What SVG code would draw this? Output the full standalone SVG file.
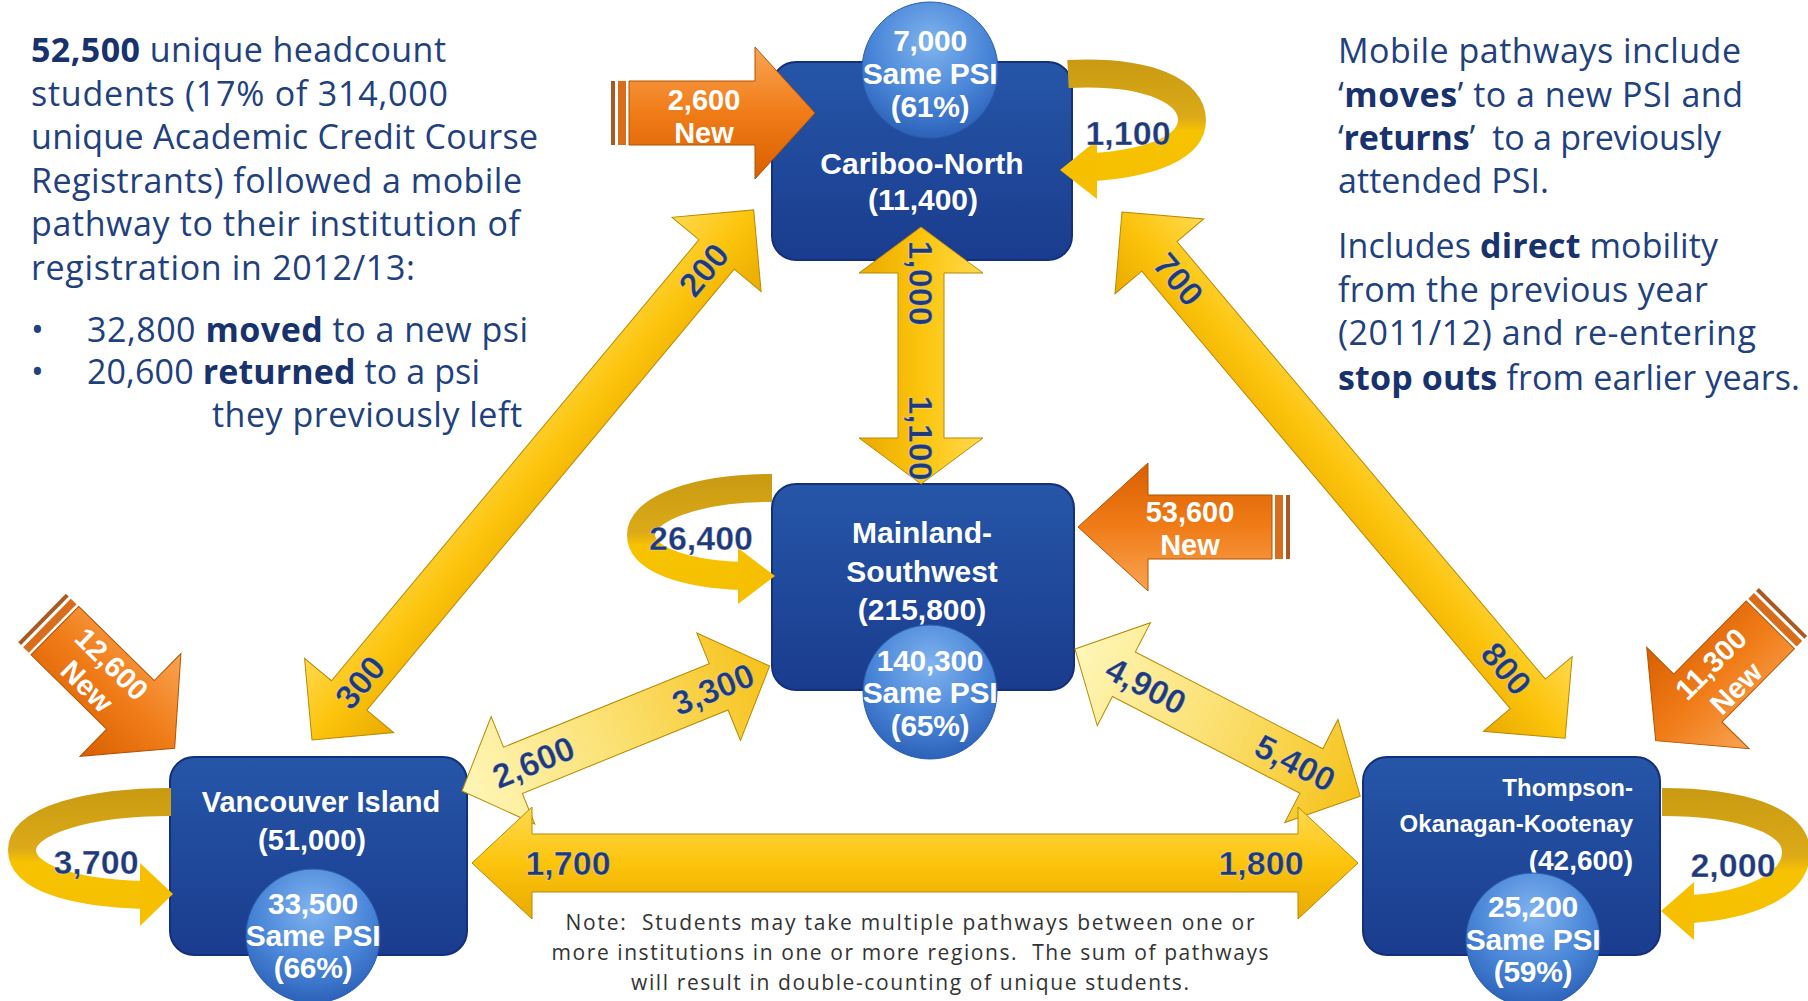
<svg xmlns="http://www.w3.org/2000/svg" width="1808" height="1001" viewBox="0 0 1808 1001">
<style>
.body{font-family:"Open Sans","Liberation Sans",sans-serif;font-size:34px;fill:#21407e}
.b{font-weight:bold;fill:#17326c}
.note{font-family:"Open Sans","Liberation Sans",sans-serif;font-size:21px;fill:#333;text-anchor:middle}
.box{fill:url(#boxG);stroke:#14307a;stroke-width:2}
.bub{fill:url(#bubG);stroke:#2a5dae;stroke-width:1}
.nt{font-family:"Liberation Sans",Arial,sans-serif;font-weight:bold;fill:#fff;text-anchor:middle;dominant-baseline:central}
.bt{font-size:30px;letter-spacing:-0.3px}
.lbl{font-family:"Liberation Sans",Arial,sans-serif;font-weight:bold;fill:#1f3a7a;font-size:34px;text-anchor:middle;dominant-baseline:central;stroke:#ffffff;stroke-width:0.6;stroke-opacity:0.5}
.ow{font-family:"Liberation Sans",Arial,sans-serif;font-weight:bold;fill:#fff;font-size:29px;text-anchor:middle;dominant-baseline:central}
.ya{fill:url(#yG);stroke:#b88a00;stroke-width:1}
.pa{fill:url(#pG);stroke:#b88a00;stroke-width:1}
.oa{fill:url(#oG);stroke:#b35200;stroke-width:1}
.s1{fill:#a85a22}
.s2{fill:#d86d1c}
.loop{fill:none;stroke-width:28}
.lh{fill:#f6c000}
</style>
<defs>
<linearGradient id="boxG" x1="0" y1="0" x2="0" y2="1">
<stop offset="0" stop-color="#2656a8"/><stop offset="1" stop-color="#1a3c8e"/>
</linearGradient>
<radialGradient id="bubG" cx="0.5" cy="0.3" r="0.7">
<stop offset="0" stop-color="#80b4ef"/><stop offset="0.6" stop-color="#4a86d8"/><stop offset="1" stop-color="#2c62b8"/>
</radialGradient>
<linearGradient id="yG" x1="0" y1="0" x2="0" y2="1">
<stop offset="0" stop-color="#ffd94f"/><stop offset="0.5" stop-color="#fcc40c"/><stop offset="1" stop-color="#e9aa00"/>
</linearGradient>
<linearGradient id="pG" x1="0" y1="0" x2="1" y2="0">
<stop offset="0" stop-color="#fff6b8"/><stop offset="0.5" stop-color="#fbe070"/><stop offset="1" stop-color="#f6c21a"/>
</linearGradient>
<linearGradient id="oG" x1="0" y1="0" x2="0" y2="1">
<stop offset="0" stop-color="#f9a453"/><stop offset="0.5" stop-color="#f07c18"/><stop offset="1" stop-color="#d85f00"/>
</linearGradient>
<linearGradient id="lpC" gradientUnits="userSpaceOnUse" x1="0" y1="60" x2="0" y2="175">
<stop offset="0" stop-color="#c99a12"/><stop offset="0.5" stop-color="#dcaa18"/><stop offset="0.62" stop-color="#f7c300"/><stop offset="1" stop-color="#f5c000"/>
</linearGradient>
<linearGradient id="lpM" gradientUnits="userSpaceOnUse" x1="0" y1="474" x2="0" y2="590">
<stop offset="0" stop-color="#c99a12"/><stop offset="0.5" stop-color="#dcaa18"/><stop offset="0.62" stop-color="#f7c300"/><stop offset="1" stop-color="#f5c000"/>
</linearGradient>
<linearGradient id="lpV" gradientUnits="userSpaceOnUse" x1="0" y1="788" x2="0" y2="909">
<stop offset="0" stop-color="#c99a12"/><stop offset="0.5" stop-color="#dcaa18"/><stop offset="0.62" stop-color="#f7c300"/><stop offset="1" stop-color="#f5c000"/>
</linearGradient>
<linearGradient id="lpT" gradientUnits="userSpaceOnUse" x1="0" y1="788" x2="0" y2="923">
<stop offset="0" stop-color="#c99a12"/><stop offset="0.5" stop-color="#dcaa18"/><stop offset="0.62" stop-color="#f7c300"/><stop offset="1" stop-color="#f5c000"/>
</linearGradient>
</defs>
<rect width="1808" height="1001" fill="#ffffff"/>

<g id="text-left" class="body">
<text x="31" y="62" textLength="415" lengthAdjust="spacing"><tspan class="b">52,500</tspan> unique headcount</text>
<text x="31" y="106" textLength="417" lengthAdjust="spacing">students (17% of 314,000</text>
<text x="31" y="149" textLength="507" lengthAdjust="spacing">unique Academic Credit Course</text>
<text x="31" y="193" textLength="491" lengthAdjust="spacing">Registrants) followed a mobile</text>
<text x="31" y="236" textLength="489" lengthAdjust="spacing">pathway to their institution of</text>
<text x="31" y="280" textLength="384" lengthAdjust="spacing">registration in 2012/13:</text>
<text x="31" y="342">•</text>
<text x="87" y="342" textLength="441" lengthAdjust="spacing">32,800 <tspan class="b">moved</tspan> to a new psi</text>
<text x="31" y="384">•</text>
<text x="87" y="384" textLength="393" lengthAdjust="spacing">20,600 <tspan class="b">returned</tspan> to a psi</text>
<text x="212" y="427" textLength="310" lengthAdjust="spacing">they previously left</text>
</g>

<g id="text-right" class="body">
<text x="1338" y="63" textLength="403" lengthAdjust="spacing">Mobile pathways include</text>
<text x="1338" y="107" textLength="405" lengthAdjust="spacing">‘<tspan class="b">moves</tspan>’ to a new PSI and</text>
<text x="1338" y="150" textLength="383" lengthAdjust="spacing" xml:space="preserve">‘<tspan class="b">returns</tspan>’  to a previously</text>
<text x="1338" y="193" textLength="211" lengthAdjust="spacing">attended PSI.</text>
<text x="1338" y="258" textLength="380" lengthAdjust="spacing">Includes <tspan class="b">direct</tspan> mobility</text>
<text x="1338" y="302" textLength="370" lengthAdjust="spacing">from the previous year</text>
<text x="1338" y="345" textLength="418" lengthAdjust="spacing">(2011/12) and re-entering</text>
<text x="1338" y="390" textLength="462" lengthAdjust="spacing"><tspan class="b">stop outs</tspan> from earlier years.</text>
</g>

<g id="note">
<text class="note" x="910" y="930" textLength="689" lengthAdjust="spacing" xml:space="preserve">Note:  Students may take multiple pathways between one or</text>
<text class="note" x="910" y="960" textLength="717" lengthAdjust="spacing" xml:space="preserve">more institutions in one or more regions.  The sum of pathways</text>
<text class="note" x="910" y="990" textLength="558" lengthAdjust="spacing">will result in double-counting of unique students.</text>
</g>

<g id="node-cariboo-north">
<rect class="box" x="772" y="62" width="300" height="198" rx="24"/>
<text class="nt" x="922" y="163" font-size="30">Cariboo-North</text>
<text class="nt" x="923" y="199" font-size="30">(11,400)</text>
</g>
<g id="node-mainland-southwest">
<rect class="box" x="772" y="484" width="302" height="206" rx="24"/>
<text class="nt" x="922" y="532" font-size="30">Mainland-</text>
<text class="nt" x="922" y="571" font-size="30">Southwest</text>
<text class="nt" x="922" y="609" font-size="30">(215,800)</text>
</g>
<g id="node-vancouver-island">
<rect class="box" x="170" y="757" width="297" height="198" rx="24"/>
<text class="nt" x="321" y="802" font-size="29">Vancouver Island</text>
<text class="nt" x="312" y="840" font-size="29">(51,000)</text>
</g>
<g id="node-thompson-okanagan-kootenay">
<rect class="box" x="1363" y="757" width="297" height="198" rx="24"/>
<text class="nt" x="1633" y="787" font-size="24" style="text-anchor:end">Thompson-</text>
<text class="nt" x="1633" y="823" font-size="24" style="text-anchor:end">Okanagan-Kootenay</text>
<text class="nt" x="1633" y="860" font-size="28" style="text-anchor:end">(42,600)</text>
</g>

<g id="connectors">
<!-- self loops -->
<path class="loop" stroke="url(#lpC)" d="M1068,74 C1150,70 1192,92 1192,120 C1192,148 1150,163 1094,167"/>
<polygon class="lh" points="1060,170 1097,140 1097,199"/>
<text class="lbl" x="1128" y="133" font-size="35">1,100</text>

<path class="loop" stroke="url(#lpM)" d="M772,488 C698,488 641,508 641,535 C641,560 686,574 742,576"/>
<polygon class="lh" points="775,576 738,548 738,604"/>
<text class="lbl" x="701" y="538" font-size="35">26,400</text>

<path class="loop" stroke="url(#lpV)" d="M171,802 C90,802 22,820 22,850 C22,880 80,893 143,895"/>
<polygon class="lh" points="173,894 140,863 140,926"/>
<text class="lbl" x="96" y="862" font-size="35">3,700</text>

<path class="loop" stroke="url(#lpT)" d="M1662,802 C1740,802 1796,820 1796,852 C1796,885 1750,905 1692,909"/>
<polygon class="lh" points="1661,911 1694,882 1694,940"/>
<text class="lbl" x="1733" y="865" font-size="35">2,000</text>

<!-- VI <-> Cariboo -->
<g transform="translate(312,740) rotate(-50.2)">
<polygon class="ya" points="0,0 58,-58 58,-23 632,-23 632,-58 690,0 632,58 632,23 58,23 58,58"/>
<text class="lbl" x="75" y="0">300</text>
<text class="lbl" x="612" y="0">200</text>
</g>
<!-- Cariboo <-> TOK -->
<g transform="translate(1122,212) rotate(49.9)">
<polygon class="ya" points="0,0 58,-58 58,-23 630,-23 630,-58 688,0 630,58 630,23 58,23 58,58"/>
<text class="lbl" x="88" y="0">700</text>
<text class="lbl" x="597" y="0">800</text>
</g>
<!-- Cariboo <-> MS -->
<g transform="translate(921,227) rotate(90)">
<polygon class="ya" points="0,0 46,-62 46,-23 211,-23 211,-62 257,0 211,62 211,23 46,23 46,62"/>
<text class="lbl" x="56" y="0">1,000</text>
<text class="lbl" x="211" y="0">1,100</text>
</g>
<!-- VI <-> MS -->
<g transform="translate(462,791) rotate(-22.1)">
<polygon class="pa" points="0,0 55,-58 55,-25 277,-25 277,-58 332,0 277,58 277,25 55,25 55,58"/>
<text class="lbl" x="77" y="0">2,600</text>
<text class="lbl" x="271" y="0">3,300</text>
</g>
<!-- MS <-> TOK -->
<g transform="translate(1075,649) rotate(27.3)">
<polygon class="pa" points="0,0 55,-58 55,-25 266,-25 266,-58 321,0 266,58 266,25 55,25 55,58"/>
<text class="lbl" x="80" y="0">4,900</text>
<text class="lbl" x="248" y="0">5,400</text>
</g>
<!-- VI <-> TOK -->
<g transform="translate(472,863)">
<polygon class="ya" points="0,0 60,-56 60,-29 826,-29 826,-56 886,0 826,56 826,29 60,29 60,56"/>
<text class="lbl" x="96" y="0" font-size="37">1,700</text>
<text class="lbl" x="789" y="0" font-size="37">1,800</text>
</g>

<!-- new-student arrows -->
<g transform="translate(611,113)">
<rect class="s1" x="0" y="-32" width="4" height="64"/>
<rect class="s2" x="7" y="-32" width="8" height="64"/>
<polygon class="oa" points="18,-32 144,-32 144,-66 204,0 144,66 144,32 18,32"/>
</g>
<text class="ow" x="704" y="100">2,600</text>
<text class="ow" x="704" y="133">New</text>

<g transform="translate(1290,527) rotate(180)">
<rect class="s1" x="0" y="-32" width="4" height="64"/>
<rect class="s2" x="7" y="-32" width="8" height="64"/>
<polygon class="oa" points="18,-32 142,-32 142,-64 212,0 142,64 142,32 18,32"/>
</g>
<text class="ow" x="1190" y="512">53,600</text>
<text class="ow" x="1190" y="545">New</text>

<g transform="translate(42,618) rotate(44.5)">
<rect class="s1" x="0" y="-34" width="4" height="68"/>
<rect class="s2" x="7" y="-34" width="8" height="68"/>
<polygon class="oa" points="18,-34 124,-34 124,-72 186,0 124,72 124,34 18,34"/>
<text class="ow" x="82" y="-16">12,600</text>
<text class="ow" x="80" y="17">New</text>
</g>

<g transform="translate(1783,612) rotate(134.7)">
<rect class="s1" x="0" y="-34" width="4" height="68"/>
<rect class="s2" x="7" y="-34" width="8" height="68"/>
<polygon class="oa" points="18,-34 121,-34 121,-72 181,0 121,72 121,34 18,34"/>
</g>
<text class="ow" x="1711" y="664" transform="rotate(-45 1711 664)">11,300</text>
<text class="ow" x="1736" y="688" transform="rotate(-45 1736 688)">New</text>
</g>

<g id="bubbles">
<g id="bubble-cariboo-north">
<circle class="bub" cx="930" cy="70" r="68"/>
<text class="nt bt" x="930" y="40">7,000</text>
<text class="nt bt" x="930" y="73">Same PSI</text>
<text class="nt bt" x="930" y="106">(61%)</text>
</g>
<g id="bubble-mainland-southwest">
<circle class="bub" cx="930" cy="692" r="67"/>
<text class="nt bt" x="930" y="660">140,300</text>
<text class="nt bt" x="930" y="692">Same PSI</text>
<text class="nt bt" x="930" y="725">(65%)</text>
</g>
<g id="bubble-vancouver-island">
<circle class="bub" cx="313" cy="936" r="67"/>
<text class="nt bt" x="313" y="903">33,500</text>
<text class="nt bt" x="313" y="935">Same PSI</text>
<text class="nt bt" x="313" y="967">(66%)</text>
</g>
<g id="bubble-thompson-okanagan-kootenay">
<circle class="bub" cx="1533" cy="940" r="67"/>
<text class="nt bt" x="1533" y="906">25,200</text>
<text class="nt bt" x="1533" y="939">Same PSI</text>
<text class="nt bt" x="1533" y="971">(59%)</text>
</g>
</g>
</svg>
